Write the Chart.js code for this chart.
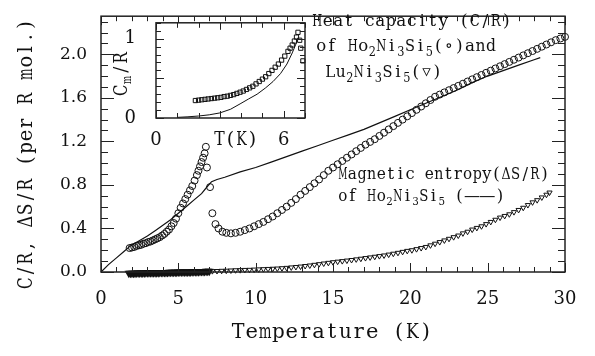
<!DOCTYPE html>
<html>
<head>
<meta charset="UTF-8">
<title>Ho2Ni3Si5 heat capacity</title>
<script src="https://cdn.jsdelivr.net/npm/chart.js"></script>
<style>
  body { margin: 0; background: #fff; }
  #wrap { position: relative; width: 595px; height: 356px; }
  #mainChart { position: absolute; left: 0; top: 0; }
  #insetChart { position: absolute; left: 100px; top: 0; }
</style>
</head>
<body>
<div id="wrap">
  <canvas id="mainChart" width="595" height="356"></canvas>
  <canvas id="insetChart" width="215" height="160"></canvas>
</div>
<script>
// Ho2Ni3Si5 heat capacity C/R (circles)
const hoT = [1.85, 2.0, 2.15, 2.3, 2.45, 2.6, 2.75, 2.9, 3.05, 3.2, 3.35, 3.5, 3.65, 3.8, 3.95, 4.1, 4.25, 4.4, 4.55, 4.7,
  4.85, 5.0, 5.15, 5.3, 5.45, 5.6, 5.75, 5.9, 6.05, 6.2, 6.3, 6.4, 6.5, 6.6, 6.7, 6.78, 6.85, 7.05, 7.2,
  7.4, 7.6, 7.85, 8.1, 8.4, 8.7, 9.0, 9.3, 9.6, 9.9, 10.2, 10.5, 10.8, 11.1, 11.4, 11.7, 12.0, 12.3, 12.6, 12.9,
  13.2, 13.5, 13.8, 14.1, 14.4, 14.7, 15.0, 15.3, 15.6, 15.9, 16.2, 16.5, 16.8, 17.1, 17.4, 17.7, 18.0, 18.3,
  18.6, 18.9, 19.2, 19.5, 19.8, 20.1, 20.4, 20.7, 21.0, 21.3, 21.6, 21.9, 22.2, 22.5, 22.8, 23.1, 23.4, 23.7,
  24.0, 24.3, 24.6, 24.9, 25.2, 25.5, 25.8, 26.1, 26.4, 26.7, 27.0, 27.3, 27.6, 27.9, 28.2, 28.5, 28.8, 29.1,
  29.4, 29.7, 30.0];
const hoC = [0.22, 0.225, 0.23, 0.24, 0.245, 0.25, 0.26, 0.265, 0.275, 0.28, 0.29, 0.30, 0.31, 0.32, 0.335, 0.35, 0.37, 0.39, 0.42, 0.45,
  0.49, 0.54, 0.59, 0.63, 0.67, 0.71, 0.75, 0.79, 0.84, 0.89, 0.93, 0.97, 1.01, 1.05, 1.09, 1.15, 0.96, 0.78, 0.54,
  0.44, 0.40, 0.37, 0.36, 0.355, 0.36, 0.37, 0.385, 0.40, 0.42, 0.44, 0.46, 0.485, 0.51, 0.54, 0.57, 0.60, 0.635, 0.67, 0.71,
  0.745, 0.78, 0.815, 0.85, 0.89, 0.93, 0.96, 0.99, 1.02, 1.05, 1.08, 1.11, 1.14, 1.17, 1.195, 1.22, 1.25, 1.28,
  1.31, 1.34, 1.37, 1.40, 1.43, 1.46, 1.49, 1.52, 1.55, 1.58, 1.61, 1.63, 1.65, 1.67, 1.69, 1.71, 1.73, 1.75,
  1.77, 1.79, 1.81, 1.83, 1.85, 1.87, 1.89, 1.91, 1.93, 1.95, 1.97, 1.99, 2.01, 2.03, 2.05, 2.07, 2.09, 2.11,
  2.13, 2.145, 2.16];

// Lu2Ni3Si5 heat capacity C/R (triangles)
const luT = [1.8, 1.9, 2.0, 2.1, 2.2, 2.3, 2.4, 2.5, 2.6, 2.7, 2.8, 2.9, 3.0, 3.1, 3.2, 3.3, 3.4, 3.5, 3.6, 3.7,
  3.8, 3.9, 4.0, 4.1, 4.2, 4.3, 4.4, 4.5, 4.6, 4.7, 4.8, 4.9, 5.0, 5.1, 5.2, 5.3, 5.4, 5.5, 5.6, 5.7,
  5.8, 5.9, 6.0, 6.1, 6.2, 6.3, 6.4, 6.5, 6.6, 6.7, 6.8, 6.9, 7.0,
  7.2, 7.5, 7.8, 8.1, 8.4, 8.7, 9.0, 9.3, 9.6, 9.9, 10.2, 10.5, 10.8,
  11.1, 11.4, 11.7, 12.0, 12.3, 12.6, 12.9, 13.2, 13.5, 13.8, 14.1, 14.4, 14.7, 15.0, 15.3, 15.6, 15.9, 16.2,
  16.5, 16.8, 17.1, 17.4, 17.7, 18.0, 18.3, 18.6, 18.9, 19.2, 19.5, 19.8, 20.1, 20.4, 20.7, 21.0, 21.3, 21.6,
  21.9, 22.2, 22.5, 22.8, 23.1, 23.4, 23.7, 24.0, 24.3, 24.6, 24.9, 25.2, 25.5, 25.8, 26.1, 26.4, 26.7, 27.0,
  27.3, 27.6, 27.9, 28.2, 28.5, 28.8, 29.0];
const luC = [-0.012, -0.012, -0.011, -0.011, -0.011, -0.01, -0.01, -0.01, -0.009, -0.009, -0.009, -0.008, -0.008, -0.008, -0.007, -0.007, -0.007, -0.006, -0.006, -0.006,
  -0.005, -0.005, -0.005, -0.004, -0.004, -0.004, -0.003, -0.003, -0.003, -0.002, -0.002, -0.002, -0.001, -0.001, -0.001, 0.0, 0.0, 0.0, 0.001, 0.001,
  0.001, 0.002, 0.002, 0.002, 0.003, 0.003, 0.004, 0.004, 0.005, 0.005, 0.006, 0.006, 0.007,
  0.008, 0.009, 0.011, 0.012, 0.014, 0.016, 0.017, 0.019, 0.02, 0.022, 0.024, 0.026, 0.028,
  0.03, 0.032, 0.035, 0.038, 0.042, 0.046, 0.05, 0.055, 0.06, 0.066, 0.072, 0.078, 0.084, 0.09, 0.095, 0.1, 0.105, 0.11,
  0.116, 0.122, 0.128, 0.134, 0.14, 0.146, 0.152, 0.16, 0.168, 0.176, 0.185, 0.194, 0.2, 0.21, 0.22, 0.23, 0.245, 0.26,
  0.275, 0.29, 0.305, 0.32, 0.335, 0.355, 0.37, 0.39, 0.405, 0.42, 0.44, 0.46, 0.48, 0.5, 0.515, 0.53, 0.55, 0.57,
  0.59, 0.615, 0.64, 0.66, 0.685, 0.71, 0.73];

// magnetic entropy dS/R of Ho2Ni3Si5 (solid line)
const entT = [0, 0.5, 1.0, 1.5, 1.9, 2.5, 3.0, 3.5, 4.0, 4.5, 5.0, 5.5, 6.0, 6.5, 6.9, 7.15, 7.5, 8.0, 9.0, 10.0,
  11.0, 12.0, 13.0, 14.0, 15.0, 16.0, 17.0, 18.0, 19.0, 20.0, 21.0, 22.0, 23.0, 24.0, 25.0, 26.0, 27.0, 28.0, 28.4];
const entS = [0, 0.07, 0.13, 0.19, 0.24, 0.29, 0.33, 0.38, 0.43, 0.48, 0.54, 0.60, 0.66, 0.72, 0.79, 0.83, 0.85, 0.87, 0.92, 0.96,
  1.01, 1.06, 1.11, 1.16, 1.21, 1.26, 1.31, 1.37, 1.43, 1.49, 1.55, 1.61, 1.67, 1.74, 1.80, 1.85, 1.90, 1.95, 1.97];

// inset: magnetic part Cm/R (squares) and the thin curve
const cmT = [1.85, 2.0, 2.15, 2.3, 2.45, 2.6, 2.75, 2.9, 3.05, 3.2, 3.35, 3.5, 3.65, 3.8, 3.95, 4.1, 4.25, 4.4, 4.55, 4.7,
  4.85, 5.0, 5.15, 5.3, 5.45, 5.6, 5.75, 5.9, 6.05, 6.2, 6.3, 6.4, 6.5, 6.6, 6.67, 6.75, 6.8, 6.9];
const cmC = [0.22, 0.225, 0.23, 0.235, 0.24, 0.245, 0.25, 0.255, 0.26, 0.27, 0.275, 0.285, 0.295, 0.31, 0.325, 0.34, 0.36, 0.38, 0.40, 0.43,
  0.46, 0.49, 0.52, 0.56, 0.60, 0.64, 0.68, 0.73, 0.78, 0.84, 0.88, 0.92, 0.97, 1.02, 1.08, 0.98, 0.88, 0.72];
const fitT = [1.0, 1.5, 2.0, 2.5, 3.0, 3.5, 3.95, 4.35, 4.75, 5.15, 5.5, 5.85, 6.15, 6.4, 6.6];
const fitC = [0.008, 0.015, 0.025, 0.04, 0.064, 0.11, 0.178, 0.24, 0.30, 0.38, 0.46, 0.56, 0.68, 0.82, 0.95];

const xTickStep = 5;
const yTickStep = 0.4;

const SERIF = '"DejaVu Serif", "Liberation Serif", serif';
Chart.defaults.font.family = SERIF;
Chart.defaults.color = '#111';

function pts(xs, ys) {
  return xs.map((x, i) => ({ x: x, y: ys[i] }));
}

// frame with inward ticks on all four sides
const frameTicks = {
  id: 'frameTicks',
  beforeDraw(chart, args, o) {
    if (!o.fill) return;
    const a = chart.chartArea;
    chart.ctx.save();
    chart.ctx.fillStyle = '#fff';
    chart.ctx.fillRect(a.left, a.top, a.right - a.left, a.bottom - a.top);
    chart.ctx.restore();
  },
  afterDatasetsDraw(chart, args, o) {
    const ctx = chart.ctx, a = chart.chartArea;
    const xs = chart.scales.x, ys = chart.scales.y;
    const isMajor = (v, step) => Math.abs(v / step - Math.round(v / step)) < 1e-6;
    ctx.save();
    ctx.strokeStyle = '#222';
    ctx.lineWidth = 1;
    ctx.beginPath();
    const nx = Math.round((xs.max - xs.min) / o.xMinor);
    for (let i = 0; i <= nx; i++) {
      const v = xs.min + i * o.xMinor;
      const len = isMajor(v, o.xMajor) ? o.xMajorLen : o.xMinorLen;
      const px = Math.round(xs.getPixelForValue(v)) + 0.5;
      ctx.moveTo(px, a.bottom); ctx.lineTo(px, a.bottom - len);
      ctx.moveTo(px, a.top); ctx.lineTo(px, a.top + len);
    }
    const ny = Math.floor((ys.max - ys.min) / o.yMinor + 1e-6);
    for (let i = 0; i <= ny; i++) {
      const v = ys.min + i * o.yMinor;
      const len = isMajor(v, o.yMajor) ? o.yMajorLen : o.yMinorLen;
      const py = Math.round(ys.getPixelForValue(v)) + 0.5;
      ctx.moveTo(a.left, py); ctx.lineTo(a.left + len, py);
      ctx.moveTo(a.right, py); ctx.lineTo(a.right - len, py);
    }
    ctx.stroke();
    ctx.lineWidth = o.frameWidth;
    ctx.strokeRect(a.left, a.top, a.right - a.left, a.bottom - a.top);
    ctx.restore();
  }
};

// typewriter-like text: every character gets the same cell width,
// parts starting with '_' are subscripts
function monoText(ctx, x, y, parts, size, pitch) {
  let cx = x;
  for (const p of parts) {
    const sub = p.startsWith('_');
    const t = sub ? p.slice(1) : p;
    const fs = sub ? size * 0.72 : size;
    const yy = sub ? y + size * 0.32 : y;
    ctx.font = fs + 'px ' + SERIF;
    for (const ch of t) {
      // the dash in "(——)" is drawn a little wider, like a line sample
      const pc = (sub ? pitch * 0.72 : pitch) * (ch === '\u2014' ? 1.6 : 1);
      const w = ctx.measureText(ch).width;
      let s = w > pc * 0.95 ? pc * 0.95 / w : 1;
      if (ch === '\u2014') s = pc * 1.05 / w;
      ctx.save();
      ctx.translate(cx + pc / 2, yy);
      ctx.scale(s, 1);
      ctx.fillText(ch, -w / 2, 0);
      ctx.restore();
      cx += pc;
    }
  }
  return cx - x;
}
function monoWidth(parts, pitch) {
  let w = 0;
  for (const p of parts) {
    w += p.startsWith('_') ? (p.length - 1) * pitch * 0.72 : p.length * pitch;
  }
  return w;
}

const mainText = {
  id: 'mainText',
  afterDraw(chart) {
    const ctx = chart.ctx;
    ctx.save();
    ctx.fillStyle = '#111';
    ctx.textBaseline = 'middle';
    ctx.textAlign = 'left';
    monoText(ctx, 312, 22, ['Heat capacity (C/R)'], 17, 10.5);
    monoText(ctx, 316, 47, ['of Ho', '_2', 'Ni', '_3', 'Si', '_5', '(\u2218)and'], 17, 10.5);
    monoText(ctx, 325, 73, ['Lu', '_2', 'Ni', '_3', 'Si', '_5', '(\u25BF)'], 17, 10.5);
    monoText(ctx, 338, 175, ['Magnetic entropy(\u0394S/R)'], 16.5, 9.6);
    monoText(ctx, 338, 197, ['of Ho', '_2', 'Ni', '_3', 'Si', '_5', ' (\u2014\u2014)'], 16.5, 9.6);
    // axis titles
    const xt = ['Temperature (K)'];
    monoText(ctx, 332 - monoWidth(xt, 13.4) / 2, 333, xt, 21, 13.4);
    const yt = ['C/R, \u0394S/R (per R mol.)'];
    ctx.translate(27, 154);
    ctx.rotate(-Math.PI / 2);
    monoText(ctx, -monoWidth(yt, 12.3) / 2, 0, yt, 19.5, 12.3);
    ctx.restore();
  }
};

const insetText = {
  id: 'insetText',
  afterDraw(chart) {
    const ctx = chart.ctx;
    ctx.save();
    ctx.fillStyle = '#111';
    ctx.textBaseline = 'middle';
    ctx.textAlign = 'left';
    monoText(ctx, 114, 140, ['T(K)'], 19, 11);
    const parts = ['C', '_m', '/R'];
    ctx.translate(22, 74);
    ctx.rotate(-Math.PI / 2);
    monoText(ctx, -monoWidth(parts, 12) / 2, 0, parts, 18, 12);
    ctx.restore();
  }
};

new Chart(document.getElementById('mainChart'), {
  type: 'scatter',
  data: {
    datasets: [
      {
        label: 'Ho2Ni3Si5',
        data: pts(hoT, hoC),
        pointStyle: 'circle',
        pointRadius: 3.5,
        borderColor: '#111',
        backgroundColor: 'rgba(0,0,0,0)',
        borderWidth: 1,
        clip: false
      },
      {
        label: 'Lu2Ni3Si5',
        data: pts(luT, luC),
        pointStyle: 'triangle',
        pointRotation: 180,
        pointRadius: 3,
        borderColor: '#111',
        backgroundColor: 'rgba(0,0,0,0)',
        // the low temperature points overlap into a solid band
        pointBorderWidth: c => (c.raw && c.raw.x < 7.1 ? 2 : 1),
        clip: false
      },
      {
        label: 'dS/R',
        data: pts(entT, entS),
        showLine: true,
        pointRadius: 0,
        borderColor: '#111',
        borderWidth: 1.2,
        clip: false
      }
    ]
  },
  options: {
    responsive: false,
    animation: false,
    events: [],
    layout: { padding: { top: 4, right: 30, left: 0, bottom: 0 } },
    plugins: {
      legend: { display: false },
      tooltip: { enabled: false },
      frameTicks: { xMinor: 1, xMajor: 5, xMajorLen: 9, xMinorLen: 5,
                    yMinor: 0.1, yMajor: 0.4, yMajorLen: 13, yMinorLen: 7, frameWidth: 1.5 }
    },
    scales: {
      x: {
        type: 'linear', min: 0, max: 30,
        grid: { display: false },
        border: { display: false },
        ticks: { stepSize: xTickStep, maxRotation: 0, autoSkip: false, padding: 9, font: { size: 18 } },
        afterFit(scale) { scale.height = 84; }
      },
      y: {
        type: 'linear', min: 0, max: 2.35,
        grid: { display: false },
        border: { display: false },
        ticks: { stepSize: yTickStep, includeBounds: false, padding: 6, font: { size: 17 },
                 callback: v => v.toFixed(1) },
        afterFit(scale) { scale.width = 101; }
      }
    }
  },
  plugins: [frameTicks, mainText]
});

new Chart(document.getElementById('insetChart'), {
  type: 'scatter',
  data: {
    datasets: [
      {
        label: 'Cm/R',
        data: pts(cmT, cmC),
        pointStyle: 'rect',
        pointRadius: 3,
        borderColor: '#111',
        backgroundColor: 'rgba(0,0,0,0)',
        borderWidth: 1,
        clip: false
      },
      {
        label: 'fit',
        data: pts(fitT, fitC),
        showLine: true,
        pointRadius: 0,
        borderColor: '#111',
        borderWidth: 1
      }
    ]
  },
  options: {
    responsive: false,
    animation: false,
    events: [],
    layout: { padding: { top: 19, right: 10, left: 0, bottom: 0 } },
    plugins: {
      legend: { display: false },
      tooltip: { enabled: false },
      frameTicks: { fill: true, xMinor: 1, xMajor: 3, xMajorLen: 7, xMinorLen: 5,
                    yMinor: 0.1, yMajor: 0.5, yMajorLen: 8, yMinorLen: 5, frameWidth: 1.5 }
    },
    scales: {
      x: {
        type: 'linear', min: 0, max: 7,
        grid: { display: false },
        border: { display: false },
        ticks: { stepSize: 6, includeBounds: false, maxRotation: 0, autoSkip: false, padding: 4, font: { size: 18 } },
        afterFit(scale) { scale.height = 42; }
      },
      y: {
        type: 'linear', min: 0, max: 1.2,
        grid: { display: false },
        border: { display: false },
        ticks: { stepSize: 1, includeBounds: false, padding: 12, font: { size: 18 } },
        afterFit(scale) { scale.width = 56; }
      }
    }
  },
  plugins: [frameTicks, insetText]
});
</script>
</body>
</html>
